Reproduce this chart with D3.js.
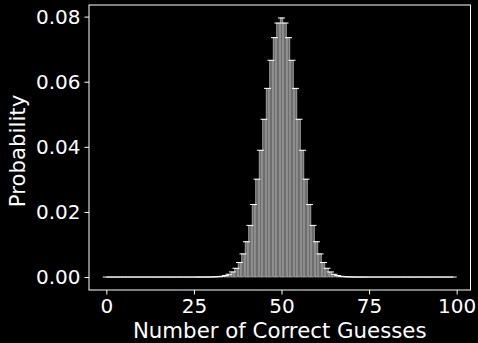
<!DOCTYPE html>
<html>
<head>
<meta charset="utf-8">
<script src="https://cdn.jsdelivr.net/npm/d3@7"></script>
<style>
  body { margin: 0; background: #000; }
  text { font-family: "DejaVu Sans", sans-serif; fill: #fff; }
</style>
</head>
<body>
<svg id="chart" width="478" height="343"></svg>
<script>
// number of correct guesses, 0..99
var guesses = d3.range(0, 100);

// probability for each number of correct guesses
var probs = [
  0, 0, 0, 0, 0, 0, 0, 0, 0, 0,
  0, 0, 0, 0, 0, 0, 0, 0, 0, 0,
  0, 0, 0, 0, 0, 0, 0.00000055, 0.0000015, 0.0000039, 0.0000098,
  0.0000232, 0.0000523, 0.000113, 0.000232, 0.000458, 0.000864, 0.00156, 0.00270, 0.00447, 0.00711,
  0.01084, 0.01587, 0.02229, 0.03007, 0.03895, 0.04847, 0.05796, 0.06659, 0.07353, 0.07803,
  0.07959, 0.07803, 0.07353, 0.06659, 0.05796, 0.04847, 0.03895, 0.03007, 0.02229, 0.01587,
  0.01084, 0.00711, 0.00447, 0.00270, 0.00156, 0.000864, 0.000458, 0.000232, 0.000113, 0.0000523,
  0.0000232, 0.0000098, 0.0000039, 0.0000015, 0.00000055, 0, 0, 0, 0, 0,
  0, 0, 0, 0, 0, 0, 0, 0, 0, 0,
  0, 0, 0, 0, 0, 0, 0, 0, 0, 0
];

var xTicks = [0, 25, 50, 75, 100];
var yTicks = [0, 0.02, 0.04, 0.06, 0.08];

var plotL = 89, plotR = 470.5, plotT = 5, plotB = 290;

var svg = d3.select("#chart");

var x = d3.scaleLinear().domain([-4.95, 103.95]).range([plotL, plotR]);
var y = d3.scaleLinear().domain([-0.00398, 0.08357]).range([plotB, plotT]);

var barW = x(0.8) - x(0);

// bars
svg.append("g")
  .selectAll("rect")
  .data(guesses)
  .enter()
  .append("rect")
  .attr("x", d => x(d) - barW / 2)
  .attr("width", barW)
  .attr("y", d => y(probs[d]))
  .attr("height", d => y(0) - y(probs[d]))
  .attr("fill", "#6e6e6e")
  .attr("stroke", "#e8e8e8")
  .attr("stroke-width", 0.45);

// caps
svg.append("g")
  .selectAll("line")
  .data(guesses)
  .enter()
  .append("line")
  .attr("x1", d => x(d) - 3.5)
  .attr("x2", d => x(d) + 3.5)
  .attr("y1", d => y(probs[d]))
  .attr("y2", d => y(probs[d]))
  .attr("stroke", "#fff")
  .attr("stroke-width", 1);

// y axis
var yAxis = svg.append("g")
  .attr("transform", "translate(" + plotL + ",0)")
  .call(d3.axisLeft(y).tickValues(yTicks).tickFormat(d3.format(".2f")).tickSize(4.5).tickPadding(4));
yAxis.select(".domain").remove();
yAxis.selectAll("line").attr("stroke", "#fff").attr("stroke-width", 1);
yAxis.selectAll("text").attr("font-size", 20).attr("fill", "#fff")
  .style("font-family", "DejaVu Sans");

// x axis
var xAxis = svg.append("g")
  .attr("transform", "translate(0," + plotB + ")")
  .call(d3.axisBottom(x).tickValues(xTicks).tickSize(4.5).tickPadding(4));
xAxis.select(".domain").remove();
xAxis.selectAll("line").attr("stroke", "#fff").attr("stroke-width", 1);
xAxis.selectAll("text").attr("font-size", 20).attr("fill", "#fff")
  .style("font-family", "DejaVu Sans");

// frame
svg.append("rect")
  .attr("x", plotL)
  .attr("y", plotT)
  .attr("width", plotR - plotL)
  .attr("height", plotB - plotT)
  .attr("fill", "none")
  .attr("stroke", "#fff")
  .attr("stroke-width", 1);

// labels
svg.append("text")
  .attr("x", (plotL + plotR) / 2)
  .attr("y", 338)
  .attr("text-anchor", "middle")
  .attr("font-size", 21.3)
  .text("Number of Correct Guesses");

svg.append("text")
  .attr("transform", "translate(25,151) rotate(-90)")
  .attr("text-anchor", "middle")
  .attr("font-size", 21.3)
  .text("Probability");
</script>
</body>
</html>
